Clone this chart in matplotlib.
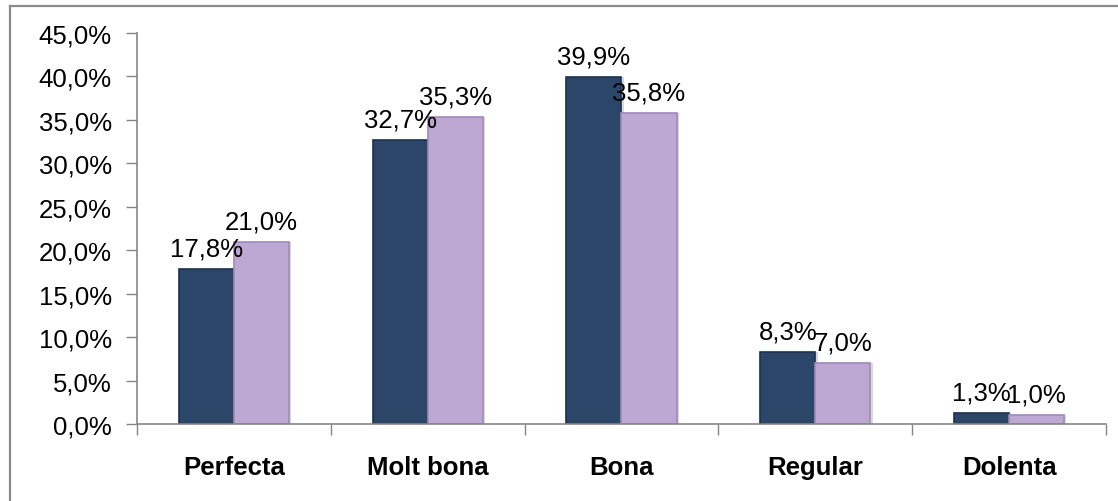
#!/usr/bin/env python3

import matplotlib
matplotlib.use('Agg')
import matplotlib.pyplot as plt
from matplotlib.lines import Line2D
from matplotlib.ticker import FixedLocator, FuncFormatter

categories = ['Perfecta', 'Molt bona', 'Bona', 'Regular', 'Dolenta']
serie_a = [17.8, 32.7, 39.9, 8.3, 1.3]
serie_b = [21.0, 35.3, 35.8, 7.0, 1.0]

NAVY = '#2c4669'
NAVY_EDGE = '#1d3150'
LILA = '#bca8d3'
LILA_EDGE = '#9f89b8'
AXIS = '#868686'
FS = 18.5


def pct(v):
    return ('%.1f%%' % v).replace('.', ',')


def add_bars(ax, xs, vals, color, edge):
    # soft shadow behind, then the bar itself
    ax.bar([x + 0.012 for x in xs], vals, width=0.284, color='#d9d9d9',
           edgecolor='none', zorder=1)
    bars = ax.bar(xs, vals, width=0.284, color=color, edgecolor=edge,
                  linewidth=1.2, zorder=2)
    for b, v in zip(bars, vals):
        ax.annotate(pct(v), (b.get_x() + b.get_width() / 2, v),
                    xytext=(0, 6), textcoords='offset points',
                    ha='center', va='bottom', fontsize=FS, zorder=3)
    return bars


def main():
    plt.rcParams['font.family'] = ['Liberation Sans', 'DejaVu Sans']
    fig = plt.figure(figsize=(11.18, 5.02), dpi=100)
    ax = fig.add_axes([0.1225, 0.1534, 0.9893 - 0.1225, 0.9323 - 0.1534])

    idx = list(range(len(categories)))
    add_bars(ax, [i - 0.142 for i in idx], serie_a, NAVY, NAVY_EDGE)
    add_bars(ax, [i + 0.142 for i in idx], serie_b, LILA, LILA_EDGE)

    ax.set_xlim(-0.5, len(categories) - 0.5)
    ax.set_ylim(0, 45)

    ax.yaxis.set_major_locator(FixedLocator([i * 5 for i in range(10)]))
    ax.yaxis.set_major_formatter(FuncFormatter(lambda v, p: pct(v)))
    ax.tick_params(axis='y', length=8, width=1, color=AXIS, pad=10,
                   labelsize=FS, direction='out')

    ax.set_xticks(idx)
    ax.set_xticklabels(categories, fontweight='bold')
    ax.set_xticks([i - 0.5 for i in range(len(categories) + 1)], minor=True)
    ax.tick_params(axis='x', which='major', length=0, pad=22, labelsize=FS)
    ax.tick_params(axis='x', which='minor', length=8, width=1, color=AXIS,
                   direction='out')

    for side in ('top', 'right'):
        ax.spines[side].set_visible(False)
    for side in ('left', 'bottom'):
        ax.spines[side].set_color(AXIS)
        ax.spines[side].set_linewidth(1.2)

    # chart area border (only top and left are inside the image)
    fig.add_artist(Line2D([10 / 1118, 10 / 1118], [0, 1 - 7 / 502],
                          transform=fig.transFigure, color='#8c8c8c', lw=1.6))
    fig.add_artist(Line2D([10 / 1118, 1], [1 - 7 / 502, 1 - 7 / 502],
                          transform=fig.transFigure, color='#8c8c8c', lw=1.6))

    fig.savefig('out.png', dpi=100)


if __name__ == '__main__':
    main()
